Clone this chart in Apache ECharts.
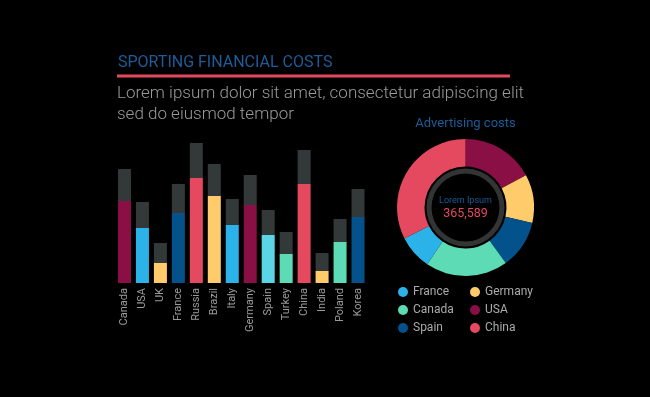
<!DOCTYPE html>
<html>
<head>
<meta charset="utf-8">
<script src="https://cdn.jsdelivr.net/npm/echarts@6/dist/echarts.min.js"></script>
<style>
html,body{margin:0;padding:0;background:#000;}
#c{width:650px;height:397px;}
</style>
</head>
<body>
<div id="c"></div>
<script>
var categories = ['Canada','USA','UK','France','Russia','Brazil','Italy','Germany','Spain','Turkey','China','India','Poland','Korea'];
var baseValues = [82,55,20,70,105,87,58,78,48,29,99,12,41,66];
var topValues = [32,26,20,29,35,32,26,30,25,22,34,18,23,28];
var pieNames = ['USA','Germany','Spain','Canada','France','China'];
var pieValues = [62,41,41,70,29,117];
var legendCol1 = ['France','Canada','Spain'];
var legendCol2 = ['Germany','USA','China'];

var C = {mag:'#8a0f45', blue:'#2bb3e9', yel:'#ffcb6b', navy:'#03528b', red:'#e4495f', cyan:'#5bd5e6', green:'#5cdbb5'};
var barColors = [C.mag,C.blue,C.yel,C.navy,C.red,C.yel,C.blue,C.mag,C.cyan,C.green,C.red,C.yel,C.green,C.navy];
var pieColors = {USA:C.mag, Germany:C.yel, Spain:C.navy, Canada:C.green, France:C.blue, China:C.red};

var FONT = 'Roboto, "Noto Sans", sans-serif';
var chart = echarts.init(document.getElementById('c'));
chart.setOption({
  backgroundColor:'#000',
  animation:false,
  textStyle:{fontFamily:FONT},
  grid:{left:115.5, top:143, width:251.5, height:140},
  xAxis:{type:'category', data:categories,
    axisLine:{show:false}, axisTick:{show:false},
    axisLabel:{rotate:90, color:'#9a9a9a', fontSize:11, margin:5, fontFamily:FONT}},
  yAxis:{type:'value', min:0, max:140, show:false, splitLine:{show:false}},
  legend:[
    {data:legendCol1, orient:'vertical', left:398, top:286, padding:0, icon:'circle', itemWidth:10, itemHeight:10, itemGap:6,
     textStyle:{color:'#aaaaaa', fontSize:12, fontFamily:FONT}, selectedMode:false},
    {data:legendCol2, orient:'vertical', left:470, top:286, padding:0, icon:'circle', itemWidth:10, itemHeight:10, itemGap:6,
     textStyle:{color:'#aaaaaa', fontSize:12, fontFamily:FONT}, selectedMode:false}
  ],
  series:[
    {type:'bar', stack:'s', barWidth:13, silent:true,
     data:baseValues.map(function(v,i){return {value:v, itemStyle:{color:barColors[i]}};})},
    {type:'bar', stack:'s', barWidth:13, silent:true, itemStyle:{color:'#333838'},
     data:topValues},
    {type:'pie', center:[465.5,207.5], radius:[41,68.5], startAngle:90, clockwise:true,
     label:{show:false}, labelLine:{show:false}, silent:true,
     data:pieNames.map(function(n,i){return {name:n, value:pieValues[i], itemStyle:{color:pieColors[n]}};})},
    {type:'pie', center:[465.5,207.5], radius:[34,39], label:{show:false}, silent:true,
     data:[{name:'ring', value:1, itemStyle:{color:'#333535'}}]}
  ],
  graphic:[
    {type:'text', left:118, top:55, style:{text:'SPORTING FINANCIAL COSTS', fill:'#1d5c98', font:'16px '+FONT}},
    {type:'rect', left:117, top:74.5, shape:{width:393, height:3}, style:{fill:'#e4495f'}},
    {type:'text', left:117, top:83, style:{text:'Lorem ipsum dolor sit amet, consectetur adipiscing elit\nsed do eiusmod tempor', fill:'#9a9a9a', font:'300 17px '+FONT, lineHeight:21}},
    {type:'text', x:465.5, y:124, style:{text:'Advertising costs', fill:'#1d5c98', font:'13px '+FONT, textAlign:'center', textVerticalAlign:'middle'}},
    {type:'text', x:465.5, y:201, style:{text:'Lorem Ipsum', fill:'#1d5c98', font:'9px '+FONT, textAlign:'center', textVerticalAlign:'middle'}},
    {type:'text', x:465.5, y:213.5, style:{text:'365,589', fill:'#e4495f', font:'12.5px '+FONT, textAlign:'center', textVerticalAlign:'middle'}}
  ]
});
</script>
</body>
</html>
